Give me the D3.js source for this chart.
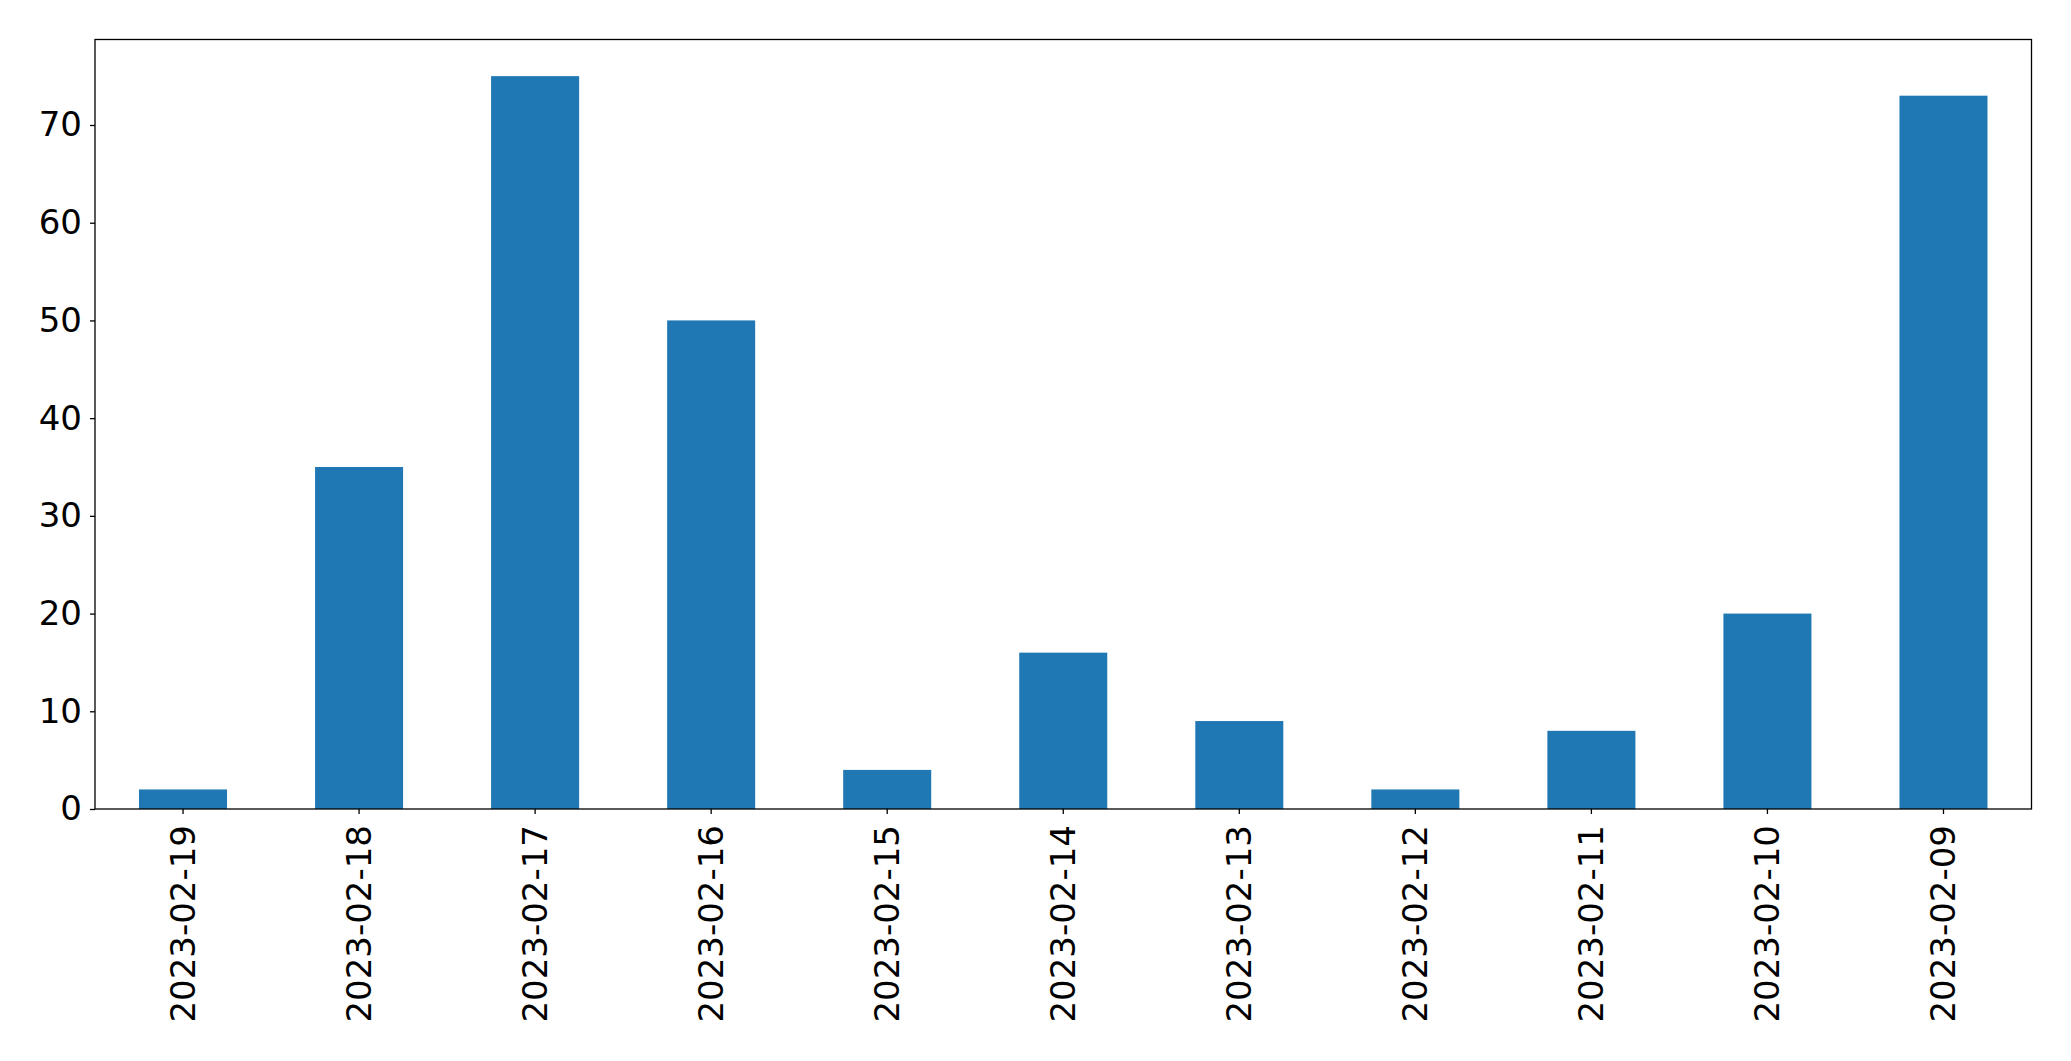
<!DOCTYPE html>
<html><head><meta charset="utf-8">
<script src="https://cdn.jsdelivr.net/npm/d3@7"></script>
<style>body{margin:0;background:#fff;} svg{display:block;}</style>
</head><body>
<svg id="c" width="2071" height="1061"></svg>
<script>
const categories = ["2023-02-19","2023-02-18","2023-02-17","2023-02-16","2023-02-15","2023-02-14","2023-02-13","2023-02-12","2023-02-11","2023-02-10","2023-02-09"];
const values = [2, 35, 75, 50, 4, 16, 9, 2, 8, 20, 73];
const yTicks = [0, 10, 20, 30, 40, 50, 60, 70];

const svg = d3.select("#c");
const m = {left: 95, right: 2031.5, top: 39.5, bottom: 809};
const font = "DejaVu Sans, sans-serif";
const fs = 34;

const x = d3.scaleBand().domain(categories).range([m.left, m.right]).paddingInner(0.5).paddingOuter(0.25);
const y = d3.scaleLinear().domain([0, d3.max(values) * 1.05]).range([m.bottom, m.top]);

svg.append("g").selectAll("rect").data(values).join("rect")
  .attr("x", (d, i) => x(categories[i]))
  .attr("width", x.bandwidth())
  .attr("y", d => y(d))
  .attr("height", d => y(0) - y(d))
  .attr("fill", "#1f77b4");

const yAxis = svg.append("g").attr("transform", `translate(${m.left},0)`)
  .call(d3.axisLeft(y).tickValues(yTicks).tickSize(5).tickPadding(8).tickFormat(d3.format("d")));
yAxis.select(".domain").remove();
yAxis.selectAll("line").attr("stroke", "#000").attr("stroke-width", 1.3);
yAxis.selectAll("text").attr("font-family", font).attr("font-size", fs).attr("fill", "#000");

const xAxis = svg.append("g").attr("transform", `translate(0,${m.bottom})`)
  .call(d3.axisBottom(x).tickSize(5).tickPadding(0));
xAxis.select(".domain").remove();
xAxis.selectAll("line").attr("stroke", "#000").attr("stroke-width", 1.3);
xAxis.selectAll("text")
  .attr("font-family", font).attr("font-size", fs).attr("fill", "#000")
  .attr("text-anchor", "end")
  .attr("dy", null)
  .attr("y", 0)
  .attr("transform", "translate(0,16) rotate(-90)")
  .attr("dominant-baseline", "central");

svg.append("rect")
  .attr("x", m.left).attr("y", m.top)
  .attr("width", m.right - m.left).attr("height", m.bottom - m.top)
  .attr("fill", "none").attr("stroke", "#000").attr("stroke-width", 1.3);
</script>
</body></html>
